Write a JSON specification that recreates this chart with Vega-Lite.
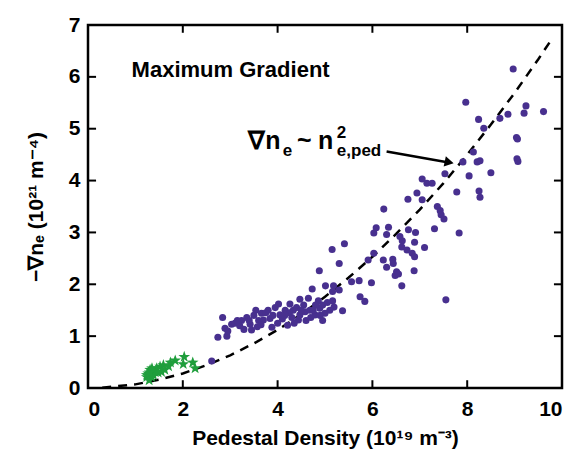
{
  "$schema": "https://vega.github.io/schema/vega-lite/v6.json",
  "width": 474,
  "height": 363,
  "autosize": {"type": "none"},
  "padding": {"left": 88, "top": 25, "right": 12, "bottom": 66},
  "background": "white",
  "config": {
    "font": "Liberation Sans",
    "view": {"stroke": "black", "strokeWidth": 2.5},
    "axis": {
      "domain": false,
      "grid": false,
      "ticks": false,
      "labelFont": "Liberation Sans",
      "labelFontSize": 21,
      "labelFontWeight": "bold",
      "labelColor": "black",
      "titleFont": "Liberation Sans",
      "titleFontSize": 21,
      "titleFontWeight": "bold",
      "titleColor": "black"
    }
  },
  "layer": [
    {
      "data": {"values": [
        {"n": 0.3, "g": 0.006}, {"n": 1.0, "g": 0.07}, {"n": 1.5, "g": 0.16}, {"n": 2.0, "g": 0.28},
        {"n": 2.5, "g": 0.44}, {"n": 3.0, "g": 0.63}, {"n": 3.5, "g": 0.86}, {"n": 4.0, "g": 1.12},
        {"n": 4.5, "g": 1.42}, {"n": 5.0, "g": 1.76}, {"n": 5.5, "g": 2.13}, {"n": 6.0, "g": 2.53},
        {"n": 6.5, "g": 2.97}, {"n": 7.0, "g": 3.44}, {"n": 7.5, "g": 3.95}, {"n": 8.0, "g": 4.50},
        {"n": 8.5, "g": 5.08}, {"n": 9.0, "g": 5.69}, {"n": 9.5, "g": 6.34}, {"n": 9.8, "g": 6.75}
      ]},
      "mark": {"type": "line", "color": "black", "strokeWidth": 2.5, "strokeDash": [9, 7]},
      "encoding": {
        "x": {"field": "n", "type": "quantitative", "scale": {"domain": [0, 10], "nice": false},
          "axis": {"values": [0, 2, 4, 6, 8, 10], "format": "d", "title": "Pedestal Density (10¹⁹ m⁻³)", "labelPadding": 10, "titlePadding": 8}},
        "y": {"field": "g", "type": "quantitative", "scale": {"domain": [0, 7], "nice": false},
          "axis": {"values": [0, 1, 2, 3, 4, 5, 6, 7], "format": "d", "title": "−∇nₑ (10²¹ m⁻⁴)", "labelPadding": 8, "titlePadding": 22}}
      }
    },
    {
      "data": {"values": [
        {"v": 2, "a": 0, "b": 0.15}, {"v": 4, "a": 0, "b": 0.15}, {"v": 6, "a": 0, "b": 0.15}, {"v": 8, "a": 0, "b": 0.15},
        {"v": 2, "a": 7, "b": 6.85}, {"v": 4, "a": 7, "b": 6.85}, {"v": 6, "a": 7, "b": 6.85}, {"v": 8, "a": 7, "b": 6.85}
      ]},
      "mark": {"type": "rule", "color": "black", "strokeWidth": 2},
      "encoding": {
        "x": {"field": "v", "type": "quantitative"},
        "y": {"field": "a", "type": "quantitative"},
        "y2": {"field": "b"}
      }
    },
    {
      "data": {"values": [
        {"v": 1, "a": 0, "b": 0.17}, {"v": 2, "a": 0, "b": 0.17}, {"v": 3, "a": 0, "b": 0.17}, {"v": 4, "a": 0, "b": 0.17},
        {"v": 5, "a": 0, "b": 0.17}, {"v": 6, "a": 0, "b": 0.17},
        {"v": 1, "a": 10, "b": 9.83}, {"v": 2, "a": 10, "b": 9.83}, {"v": 3, "a": 10, "b": 9.83}, {"v": 4, "a": 10, "b": 9.83},
        {"v": 5, "a": 10, "b": 9.83}, {"v": 6, "a": 10, "b": 9.83}
      ]},
      "mark": {"type": "rule", "color": "black", "strokeWidth": 2},
      "encoding": {
        "y": {"field": "v", "type": "quantitative"},
        "x": {"field": "a", "type": "quantitative"},
        "x2": {"field": "b"}
      }
    },
    {
      "data": {"values": [
        {"n": 8.97, "g": 6.15}, {"n": 7.97, "g": 5.51}, {"n": 9.24, "g": 5.44}, {"n": 9.20, "g": 5.30},
        {"n": 9.61, "g": 5.33}, {"n": 8.86, "g": 5.28}, {"n": 8.69, "g": 5.20}, {"n": 8.24, "g": 5.18},
        {"n": 8.35, "g": 5.01}, {"n": 9.04, "g": 4.83}, {"n": 9.06, "g": 4.80}, {"n": 8.13, "g": 4.55},
        {"n": 9.05, "g": 4.42}, {"n": 9.07, "g": 4.37}, {"n": 7.91, "g": 4.36}, {"n": 8.21, "g": 4.36},
        {"n": 8.27, "g": 4.38}, {"n": 8.50, "g": 4.15}, {"n": 7.53, "g": 4.13}, {"n": 8.04, "g": 4.09},
        {"n": 7.05, "g": 4.03}, {"n": 7.15, "g": 3.95}, {"n": 7.26, "g": 3.95}, {"n": 7.78, "g": 3.78},
        {"n": 8.25, "g": 3.80}, {"n": 8.27, "g": 3.68}, {"n": 6.94, "g": 3.76}, {"n": 6.75, "g": 3.64},
        {"n": 7.05, "g": 3.63}, {"n": 6.24, "g": 3.45}, {"n": 7.37, "g": 3.50}, {"n": 7.43, "g": 3.42},
        {"n": 7.45, "g": 3.34}, {"n": 7.51, "g": 3.26}, {"n": 6.08, "g": 3.09}, {"n": 6.03, "g": 2.99},
        {"n": 6.34, "g": 3.10}, {"n": 6.30, "g": 2.96}, {"n": 6.76, "g": 3.05}, {"n": 6.91, "g": 3.00},
        {"n": 7.31, "g": 3.07}, {"n": 6.58, "g": 2.92}, {"n": 6.63, "g": 2.84}, {"n": 6.89, "g": 2.81},
        {"n": 6.62, "g": 2.72}, {"n": 6.73, "g": 2.66}, {"n": 6.84, "g": 2.60}, {"n": 6.89, "g": 2.53},
        {"n": 7.10, "g": 2.71}, {"n": 7.83, "g": 2.99}, {"n": 5.41, "g": 2.78}, {"n": 5.15, "g": 2.67},
        {"n": 6.03, "g": 2.60}, {"n": 5.91, "g": 2.47}, {"n": 6.23, "g": 2.47}, {"n": 6.43, "g": 2.48},
        {"n": 6.44, "g": 2.40}, {"n": 6.30, "g": 2.33}, {"n": 5.30, "g": 2.40}, {"n": 4.88, "g": 2.26},
        {"n": 6.51, "g": 2.24}, {"n": 6.48, "g": 2.17}, {"n": 6.55, "g": 2.20}, {"n": 6.88, "g": 2.26},
        {"n": 5.56, "g": 2.05}, {"n": 5.72, "g": 2.07}, {"n": 5.98, "g": 2.03}, {"n": 6.62, "g": 1.97},
        {"n": 4.73, "g": 1.91}, {"n": 5.01, "g": 1.97}, {"n": 5.18, "g": 1.97}, {"n": 5.16, "g": 1.86},
        {"n": 5.30, "g": 1.89}, {"n": 5.74, "g": 1.76}, {"n": 5.84, "g": 1.67}, {"n": 7.55, "g": 1.70},
        {"n": 2.61, "g": 0.52}, {"n": 2.74, "g": 0.98}, {"n": 2.84, "g": 1.36}, {"n": 2.89, "g": 1.15},
        {"n": 3.03, "g": 1.23}, {"n": 2.93, "g": 1.00}, {"n": 3.24, "g": 1.30}, {"n": 3.35, "g": 1.36},
        {"n": 3.29, "g": 1.13}, {"n": 3.45, "g": 1.12}, {"n": 3.42, "g": 1.23}, {"n": 3.54, "g": 1.50},
        {"n": 3.57, "g": 1.18}, {"n": 3.66, "g": 1.44}, {"n": 3.80, "g": 1.50}, {"n": 3.84, "g": 1.34},
        {"n": 3.88, "g": 1.17}, {"n": 3.70, "g": 1.31}, {"n": 4.02, "g": 1.62}, {"n": 4.05, "g": 1.41},
        {"n": 4.16, "g": 1.50}, {"n": 4.21, "g": 1.21}, {"n": 4.26, "g": 1.62}, {"n": 4.33, "g": 1.50},
        {"n": 4.44, "g": 1.31}, {"n": 4.47, "g": 1.71}, {"n": 4.47, "g": 1.41}, {"n": 4.65, "g": 1.73},
        {"n": 4.58, "g": 1.47}, {"n": 4.68, "g": 1.50}, {"n": 4.79, "g": 1.41}, {"n": 4.86, "g": 1.68},
        {"n": 4.89, "g": 1.54}, {"n": 4.95, "g": 1.60}, {"n": 5.00, "g": 1.44}, {"n": 5.16, "g": 1.68},
        {"n": 5.19, "g": 1.56}, {"n": 5.37, "g": 1.49}, {"n": 3.10, "g": 1.25}, {"n": 3.60, "g": 1.30},
        {"n": 3.75, "g": 1.45}, {"n": 3.90, "g": 1.40}, {"n": 4.00, "g": 1.25}, {"n": 4.10, "g": 1.33},
        {"n": 4.30, "g": 1.36}, {"n": 4.25, "g": 1.45}, {"n": 4.40, "g": 1.55}, {"n": 4.55, "g": 1.60},
        {"n": 4.60, "g": 1.30}, {"n": 4.70, "g": 1.36}, {"n": 4.80, "g": 1.60}, {"n": 4.90, "g": 1.40},
        {"n": 5.05, "g": 1.65}, {"n": 4.95, "g": 1.30}, {"n": 5.10, "g": 1.50}, {"n": 3.20, "g": 1.20},
        {"n": 3.50, "g": 1.40}, {"n": 3.95, "g": 1.55}, {"n": 4.15, "g": 1.40}, {"n": 4.35, "g": 1.25},
        {"n": 2.95, "g": 1.10}, {"n": 3.15, "g": 1.30}, {"n": 3.40, "g": 1.30}, {"n": 3.65, "g": 1.22},
        {"n": 4.50, "g": 1.50}, {"n": 4.75, "g": 1.50}
      ]},
      "mark": {"type": "point", "filled": true, "shape": "circle", "color": "#48308f", "opacity": 1, "size": 50},
      "encoding": {
        "x": {"field": "n", "type": "quantitative"},
        "y": {"field": "g", "type": "quantitative"}
      }
    },
    {
      "data": {"values": [
        {"n": 2.03, "g": 0.60}, {"n": 2.01, "g": 0.46}, {"n": 2.21, "g": 0.49}, {"n": 2.26, "g": 0.38},
        {"n": 1.84, "g": 0.53}, {"n": 1.74, "g": 0.49}, {"n": 1.59, "g": 0.44}, {"n": 1.52, "g": 0.41},
        {"n": 1.62, "g": 0.35}, {"n": 1.55, "g": 0.31}, {"n": 1.45, "g": 0.38}, {"n": 1.41, "g": 0.31},
        {"n": 1.38, "g": 0.25}, {"n": 1.31, "g": 0.35}, {"n": 1.27, "g": 0.28}, {"n": 1.24, "g": 0.21},
        {"n": 1.34, "g": 0.21}, {"n": 1.29, "g": 0.15}, {"n": 1.24, "g": 0.25}, {"n": 1.35, "g": 0.38},
        {"n": 1.48, "g": 0.30}, {"n": 1.70, "g": 0.42}, {"n": 1.30, "g": 0.30}
      ]},
      "mark": {"type": "point", "filled": true, "shape": "M0,-1L0.235,-0.324L0.951,-0.309L0.380,0.124L0.588,0.809L0,0.4L-0.588,0.809L-0.380,0.124L-0.951,-0.309L-0.235,-0.324Z", "color": "#1f9e3c", "opacity": 1, "size": 150},
      "encoding": {
        "x": {"field": "n", "type": "quantitative"},
        "y": {"field": "g", "type": "quantitative"}
      }
    },
    {
      "data": {"values": [{"n": 0.92, "g": 5.99, "t": "Maximum Gradient"}]},
      "mark": {"type": "text", "align": "left", "baseline": "alphabetic", "fontSize": 22, "fontWeight": "bold", "color": "black"},
      "encoding": {
        "x": {"field": "n", "type": "quantitative"},
        "y": {"field": "g", "type": "quantitative"},
        "text": {"field": "t"}
      }
    },
    {
      "data": {"values": [
        {"n": 3.38, "g": 4.61, "t": "∇n"},
        {"n": 4.41, "g": 4.61, "t": "~"},
        {"n": 4.85, "g": 4.61, "t": "n"}
      ]},
      "mark": {"type": "text", "align": "left", "baseline": "alphabetic", "fontSize": 25, "fontWeight": "bold", "color": "black"},
      "encoding": {
        "x": {"field": "n", "type": "quantitative"},
        "y": {"field": "g", "type": "quantitative"},
        "text": {"field": "t"}
      }
    },
    {
      "data": {"values": [
        {"n": 4.11, "g": 4.48, "t": "e"},
        {"n": 5.25, "g": 4.82, "t": "2"},
        {"n": 5.25, "g": 4.48, "t": "e,ped"}
      ]},
      "mark": {"type": "text", "align": "left", "baseline": "alphabetic", "fontSize": 17, "fontWeight": "bold", "color": "black"},
      "encoding": {
        "x": {"field": "n", "type": "quantitative"},
        "y": {"field": "g", "type": "quantitative"},
        "text": {"field": "t"}
      }
    },
    {
      "data": {"values": [{"n": 6.30, "g": 4.56, "n2": 7.55, "g2": 4.36}]},
      "mark": {"type": "rule", "color": "black", "strokeWidth": 2.5},
      "encoding": {
        "x": {"field": "n", "type": "quantitative"},
        "y": {"field": "g", "type": "quantitative"},
        "x2": {"field": "n2"},
        "y2": {"field": "g2"}
      }
    },
    {
      "data": {"values": [{"n": 7.62, "g": 4.35}]},
      "mark": {"type": "point", "filled": true, "shape": "triangle-right", "color": "black", "opacity": 1, "size": 110, "angle": 12},
      "encoding": {
        "x": {"field": "n", "type": "quantitative"},
        "y": {"field": "g", "type": "quantitative"}
      }
    }
  ]
}
